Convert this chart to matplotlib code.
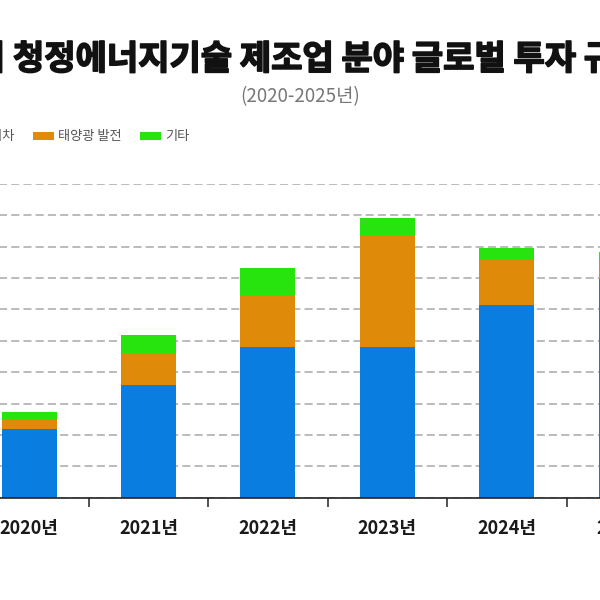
import matplotlib
matplotlib.use("Agg")
import matplotlib.pyplot as plt
import matplotlib.patheffects as pe
from matplotlib.patches import Patch
import numpy as np

plt.rcParams['font.family'] = ['Noto Sans CJK KR', 'DejaVu Sans']
plt.rcParams['lines.scale_dashes'] = False

# data
years = ["2020년", "2021년", "2022년", "2023년", "2024년", "2025년"]
ev = [43.8, 71.8, 96.0, 96.0, 122.6, 139.2]
solar = [6.6, 20.4, 33.0, 71.2, 29.0, 12.8]
other = [4.4, 11.6, 17.6, 11.4, 7.4, 4.8]
series_names = ["전기차", "태양광 발전", "기타"]
colors = ["#0A7EE0", "#E08A0A", "#28E40E"]

fig = plt.figure(figsize=(6, 6), dpi=100)
W, H = 600.0, 600.0

# plot area (part of it runs past the figure edges like the original crop)
left_px, right_px = -30.65, 685.95
top_px, base_px = 184.0, 497.7
ax = fig.add_axes([left_px / W, 1 - base_px / H, (right_px - left_px) / W, (base_px - top_px) / H])

x = np.arange(len(years))
bw = 0.46
ev_arr = np.array(ev)
solar_arr = np.array(solar)
other_arr = np.array(other)

ax.bar(x, ev_arr, bw, color=colors[0], zorder=3)
ax.bar(x, solar_arr, bw, bottom=ev_arr, color=colors[1], zorder=3)
ax.bar(x, other_arr, bw, bottom=ev_arr + solar_arr, color=colors[2], zorder=3)

ax.set_xlim(-0.5, len(years) - 0.5)
ax.set_ylim(0, 200)
ax.set_yticks(np.arange(0, 201, 20))
ax.yaxis.grid(True, color="#BBBBBB", linewidth=1.4, linestyle=(0, (5.8, 3.0)), zorder=0)
ax.tick_params(axis="y", length=0, labelleft=False)

for s in ["top", "right", "left"]:
    ax.spines[s].set_visible(False)
ax.spines["bottom"].set_color("#222222")
ax.spines["bottom"].set_linewidth(1.2)
ax.spines["bottom"].set_zorder(4)

ax.set_xticks(x)
ax.set_xticklabels(years, fontsize=13, color="#1A1A1A", fontweight="semibold")
ax.tick_params(axis="x", which="major", length=0, pad=15)
ax.set_xticks(np.arange(-0.5, len(years), 1.0), minor=True)
ax.tick_params(axis="x", which="minor", length=6.5, width=1.1, color="#222222", direction="out")

# title (cut at both sides like the reference)
heavy = [pe.withStroke(linewidth=1.2, foreground="#111111")]
fig.text(5 / W, 1 - 59 / H, "주요국의", ha="right", va="center", fontsize=24.5,
         fontweight="bold", color="#111111", path_effects=heavy)
fig.text(13 / W, 1 - 59 / H, "청정에너지기술 제조업 분야 글로벌 투자 규모", ha="left", va="center",
         fontsize=24.5, fontweight="bold", color="#111111", path_effects=heavy)
fig.text(300 / W, 1 - 97 / H, "(2020-2025년)", ha="center", va="center", fontsize=13.5,
         color="#777777")

handles = [Patch(facecolor=c, edgecolor="none") for c in colors]
fig.legend(handles, series_names, loc="center left", bbox_to_anchor=(-47 / W, 1 - 137 / H),
           ncol=3, frameon=False, fontsize=9.5, labelcolor="#555555",
           handlelength=1.6, handleheight=0.5, handletextpad=0.3, columnspacing=1.4,
           borderpad=0, borderaxespad=0)

fig.savefig("out.png", dpi=100)
